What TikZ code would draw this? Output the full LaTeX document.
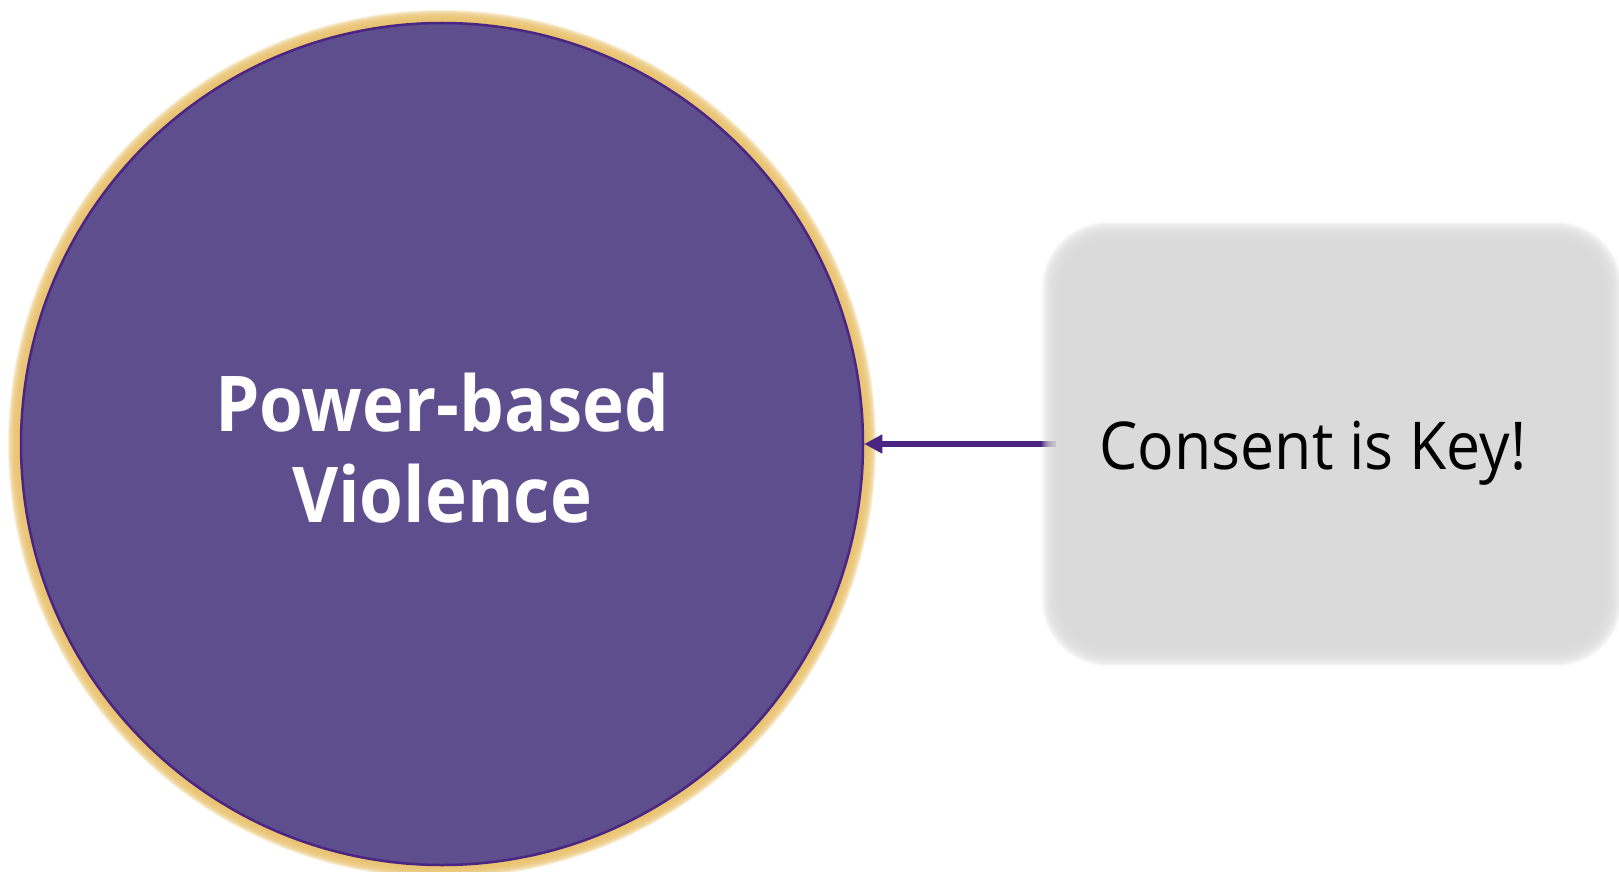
\documentclass[tikz,border=0pt]{standalone}
\usepackage{fontspec}
\setmainfont{Open Sans}[FakeStretch=0.92]
\usetikzlibrary{arrows.meta}
\definecolor{circfill}{HTML}{5E4E8D}
\definecolor{circline}{HTML}{4A2582}
\definecolor{glowgold}{HTML}{E9C26F}
\definecolor{boxgray}{HTML}{D9D9D9}
\tikzset{
  bignode/.style={circle, fill=circfill, draw=circline, line width=2.5pt, minimum size=842pt, inner sep=0pt},
  titletext/.style={text=white, font=\fontsize{77}{91}\selectfont\bfseries, align=center, inner sep=0pt},
  keytext/.style={font=\fontsize{66}{80}\selectfont, text=black, inner sep=0pt},
  conn/.style={draw=circline, line width=6pt, -{Triangle[length=18pt,width=18pt]}},
}
\begin{document}
\begin{tikzpicture}[x=1pt,y=-1pt]
\useasboundingbox (0,0) rectangle (1619,872);
% glow
\foreach \i in {1,...,12} {
  \fill[glowgold, opacity=0.27] (442,444) circle ({422+\i});
}
\node[bignode] (circ) at (442,444) {};
\node[titletext] (title) at (442,448) {Power-based\\Violence};
\node[minimum width=560pt, minimum height=424pt, inner sep=0pt] (box) at (1332,444) {};
\draw[conn] ([xshift=4pt]box.west) -- (circ.east);
% soft box
\foreach \i in {-10,...,10} {
  \fill[boxgray, opacity=0.15, rounded corners={56pt+\i pt}]
    ([xshift={-\i pt}, yshift={\i pt}]box.north west) rectangle ([xshift={\i pt}, yshift={-\i pt}]box.south east);
}
\node[keytext] (key) at (1313,453) {Consent is Key!};
\end{tikzpicture}
\end{document}
